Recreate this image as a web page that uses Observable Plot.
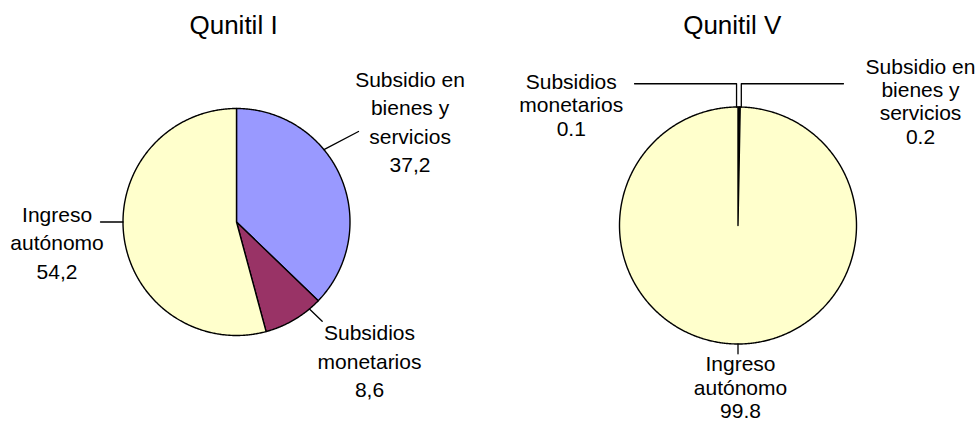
<!DOCTYPE html>
<html>
<head>
<meta charset="utf-8">
<script src="https://cdn.jsdelivr.net/npm/d3@7"></script>
<script src="https://cdn.jsdelivr.net/npm/@observablehq/plot@0.6"></script>
<style>
  html, body { margin: 0; padding: 0; background: #ffffff; }
  #chart { display: flex; width: 978px; height: 423px; overflow: hidden; }
  #chart svg { display: block; }
</style>
</head>
<body>
<div id="chart"></div>
<script>
// ---- Data ----
const categories = ["Subsidio en bienes y servicios", "Subsidios monetarios", "Ingreso autónomo"];
const categoryLines = [["Subsidio en", "bienes y", "servicios"], ["Subsidios", "monetarios"], ["Ingreso", "autónomo"]];
const titles = ["Qunitil I", "Qunitil V"];
const quintilI = [37.2, 8.6, 54.2];
const quintilV = [0.2, 0.1, 99.8];
const valueLabelsI = ["37,2", "8,6", "54,2"];
const valueLabelsV = ["0.2", "0.1", "99.8"];
const sliceColors = ["#9999FF", "#993366", "#FFFFCC"];

// ---- Layout (pixel frame + label placement in pie-radius units) ----
const FONT = "'Liberation Sans', Arial, Helvetica, sans-serif";
const layouts = [
  {
    cx: 236, cy: 221.5, r: 113.5, lineHeight: 1.352,
    title: [-0.026, 1.652],
    labels: [[1.529, 0.439], [1.172, -1.544], [-1.581, -0.498]],
    leaders: [
      {angle: 50.4, via: [[1.075, 0.797]]},
      {angle: 140, via: [[0.755, -0.874]]},
      {angle: 270, via: [[-1.198, 0.0]]}
    ]
  },
  {
    cx: 248.5, cy: 225, r: 118.5, lineHeight: 1.114,
    title: [-0.048, 1.616],
    labels: [[1.540, 0.689], [-1.407, 0.759], [0.021, -1.625]],
    leaders: [
      {angle: 1.6, via: [[null, 1.196], [0.890, 1.196]]},
      {angle: -0.7, via: [[null, 1.196], [-0.873, 1.196]]},
      {angle: 180, via: [[null, -1.083]]}
    ]
  }
];

function pieChart(values, valueLabels, title, L) {
  const W = 489, H = 423;
  const arcs = d3.pie().sort(null).value(d => d)(values);
  const step = Math.PI / 360;
  const sliceMarks = arcs.map((a, i) => {
    const pts = [[0, 0]];
    const n = Math.max(2, Math.ceil((a.endAngle - a.startAngle) / step));
    for (let k = 0; k <= n; k++) {
      const t = a.startAngle + (a.endAngle - a.startAngle) * k / n;
      pts.push([Math.sin(t), Math.cos(t)]);
    }
    pts.push([0, 0]);
    return Plot.line(pts, {
      x: d => d[0], y: d => d[1],
      fill: sliceColors[i], stroke: "#000000", strokeWidth: 1.4,
      strokeLinejoin: "round"
    });
  });

  const leaderMarks = L.leaders.map(ld => {
    const a = ld.angle * Math.PI / 180;
    const pts = [[Math.sin(a), Math.cos(a)]];
    ld.via.forEach(([x, y]) => {
      const prev = pts[pts.length - 1];
      pts.push([x === null ? prev[0] : x, y]);
    });
    return Plot.line(pts, {x: d => d[0], y: d => d[1], stroke: "#000000", strokeWidth: 1.3});
  });

  const labelData = categories.map((c, i) => ({
    text: [...categoryLines[i], valueLabels[i]].join("\n"),
    x: L.labels[i][0], y: L.labels[i][1]
  }));

  return Plot.plot({
    width: W, height: H, margin: 0,
    style: {background: "transparent", fontFamily: FONT, overflow: "visible"},
    x: {domain: [-L.cx / L.r, (W - L.cx) / L.r], axis: null},
    y: {domain: [(L.cy - H) / L.r, L.cy / L.r], axis: null},
    marks: [
      ...sliceMarks,
      ...leaderMarks,
      Plot.text(labelData, {
        x: "x", y: "y", text: "text",
        fontSize: 21, lineHeight: L.lineHeight, lineAnchor: "bottom",
        textAnchor: "middle", fill: "#000000", fontFamily: FONT
      }),
      Plot.text([title], {
        x: () => L.title[0], y: () => L.title[1], text: d => d,
        fontSize: 26, lineAnchor: "bottom", textAnchor: "middle",
        fill: "#000000", fontFamily: FONT
      })
    ]
  });
}

const chart = document.getElementById("chart");
chart.appendChild(pieChart(quintilI, valueLabelsI, titles[0], layouts[0]));
chart.appendChild(pieChart(quintilV, valueLabelsV, titles[1], layouts[1]));
</script>
</body>
</html>
